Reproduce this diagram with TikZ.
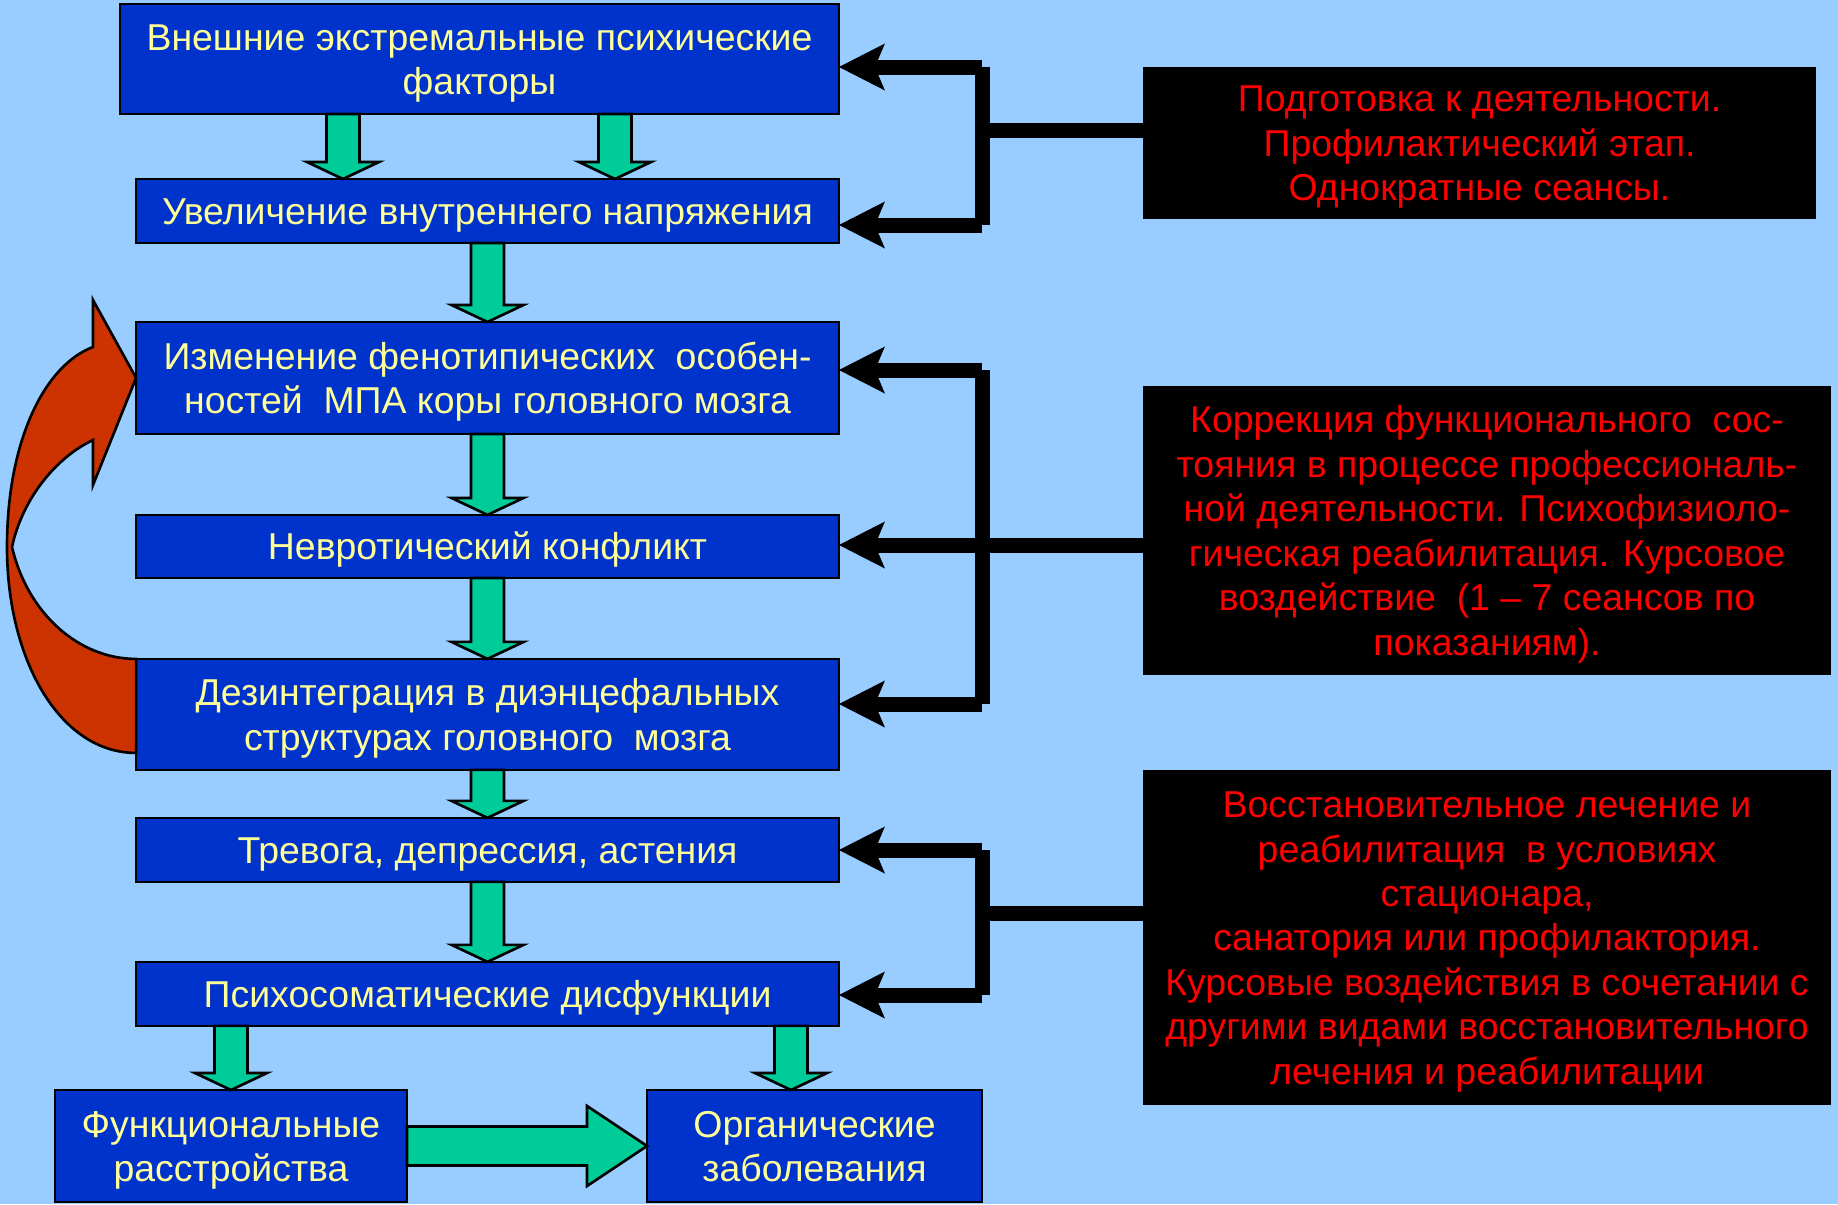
\documentclass[tikz,border=0pt]{standalone}
\usepackage{fontspec}
\setmainfont{Liberation Sans}
\usetikzlibrary{arrows.meta,positioning,calc}

\definecolor{bgblue}{HTML}{99CCFF}
\definecolor{boxblue}{HTML}{0033CC}
\definecolor{textyellow}{HTML}{FFFF99}
\definecolor{flowgreen}{HTML}{00CC99}
\definecolor{loopred}{HTML}{CC3300}

% text set a little low in its box, as in the slide
\newcommand{\lowered}[1]{\raisebox{-0.09cm}[\height][\depth]{\begin{tabular}{@{}c@{}}#1\end{tabular}}}

% green block arrow pointing down: x, upper node, lower node
\newcommand{\flowdown}[3]{%
  \coordinate (ft) at (#1,0 |- #2.south);
  \coordinate (fb) at (#1,0 |- #3.north);
  \filldraw[flow] ($(ft)+(-16.5,0)$) -- ($(ft)+(16.5,0)$) -- ($(fb)+(16.5,-17)$)
    -- ($(fb)+(36,-17)$) -- (fb) -- ($(fb)+(-36,-17)$) -- ($(fb)+(-16.5,-17)$) -- cycle;}

\begin{document}
\begin{tikzpicture}[x=0.02cm, y=-0.02cm,
  font=\fontsize{21.3}{25.3}\selectfont,
  fbox/.style={rectangle, draw, line width=1.5pt, fill=boxblue, text=textyellow, align=center,
    inner sep=0pt, outer sep=0pt, minimum width=14.06cm, minimum height=1.28cm},
  note/.style={rectangle, fill=black, text=red, align=center, inner sep=0pt, outer sep=0pt},
  flow/.style={fill=flowgreen, draw=black, line width=1.5pt, line join=miter},
  railline/.style={line width=0.3cm},
  ptr/.style={line width=0.3cm, -{Stealth[length=0.92cm, width=0.94cm, inset=0.2cm, line width=0pt]}},
  loopback/.style={fill=loopred, draw=black, line width=1.5pt}
]
\path[use as bounding box, fill=bgblue] (0,0) rectangle (1838,1204);

% main chain
\node[fbox, minimum width=14.38cm, minimum height=2.2cm] (f1) at (479.5,59) {\lowered{Внешние экстремальные психические\\факторы}};
\node[fbox] (f2) at (487.5,211) {\lowered{Увеличение внутреннего напряжения}};
\node[fbox, minimum height=2.24cm, below=1.58cm of f2] (f3) {\lowered{Изменение фенотипических~ особен-\\ностей~ МПА коры головного мозга}};
\node[fbox, minimum height=1.26cm, below=1.62cm of f3] (f4) {\lowered{Невротический конфликт}};
\node[fbox, minimum height=2.22cm, below=1.62cm of f4] (f5) {\lowered{Дезинтеграция в диэнцефальных\\структурах головного~ мозга}};
\node[fbox, below=0.96cm of f5] (f6) {\lowered{Тревога, депрессия, астения}};
\node[fbox, below=1.6cm of f6] (f7) {\lowered{Психосоматические дисфункции}};
\node[fbox, minimum width=7.04cm, minimum height=2.24cm] (f8) at (231,1146) {\lowered{Функциональные\\расстройства}};
\node[fbox, minimum width=6.7cm, minimum height=2.24cm] (f9) at (814.5,1146) {\lowered{Органические\\заболевания}};

% stages
\node[note, minimum width=13.46cm, minimum height=3.04cm] (p1) at (1479.5,143) {\lowered{Подготовка к деятельности.\\Профилактический этап.\\Однократные сеансы.}};
\node[note, minimum width=13.76cm, minimum height=5.78cm] (p2) at (1487,530.5) {\lowered{Коррекция функционального~ сос-\\тояния в процессе профессиональ-\\ной деятельности. Психофизиоло-\\гическая реабилитация. Курсовое\\воздействие~ (1 – 7 сеансов по\\показаниям).}};
\node[note, minimum width=13.76cm, minimum height=6.7cm] (p3) at (1487,937.5) {\lowered{Восстановительное лечение и\\реабилитация~ в условиях\\стационара,\\санатория или профилактория.\\Курсовые воздействия в сочетании с\\другими видами восстановительного\\лечения и реабилитации}};

% green arrows
\flowdown{343}{f1}{f2}
\flowdown{615}{f1}{f2}
\flowdown{487.5}{f2}{f3}
\flowdown{487.5}{f3}{f4}
\flowdown{487.5}{f4}{f5}
\flowdown{487.5}{f5}{f6}
\flowdown{487.5}{f6}{f7}
\flowdown{231}{f7}{f8}
\flowdown{791}{f7}{f9}
\filldraw[flow] ($(f8.east)+(0,-19.5)$) -- ($(f9.west)+(-60,-19.5)$) -- ($(f9.west)+(-60,-40)$) -- (f9.west)
  -- ($(f9.west)+(-60,40)$) -- ($(f9.west)+(-60,19.5)$) -- ($(f8.east)+(0,19.5)$) -- cycle;

% loop back
\filldraw[loopback] (f5.north west) .. controls (80,659) and (28,615) .. (12,547)
  .. controls (22,500) and (55,458) .. (93,440) -- (93,485) -- (f3.west) -- (93,300) -- (93,347)
  .. controls (45,365) and (7,440) .. (7,547) .. controls (7,660) and (60,753) .. ($(f5.north west)+(0,94)$) -- cycle;

% brackets
\coordinate (j1a) at (982,67);
\coordinate (j1m) at (982,130);
\coordinate (j1b) at (982,225);
\draw[railline] (j1a) -- (j1b);
\draw[railline] (p1.west |- j1m) -- (j1m);
\draw[ptr] (j1a) -- (f1.east |- j1a);
\draw[ptr] (j1b) -- (f2.east |- j1b);

\coordinate (j2a) at (982,370);
\coordinate (j2m) at (982,545);
\coordinate (j2b) at (982,704);
\draw[railline] (j2a) -- (j2b);
\draw[railline] (p2.west |- j2m) -- (j2m);
\draw[ptr] (j2a) -- (f3.east |- j2a);
\draw[ptr] (j2m) -- (f4.east |- j2m);
\draw[ptr] (j2b) -- (f5.east |- j2b);

\coordinate (j3a) at (982,850);
\coordinate (j3m) at (982,913);
\coordinate (j3b) at (982,995);
\draw[railline] (j3a) -- (j3b);
\draw[railline] (p3.west |- j3m) -- (j3m);
\draw[ptr] (j3a) -- (f6.east |- j3a);
\draw[ptr] (j3b) -- (f7.east |- j3b);
\end{tikzpicture}
\end{document}
